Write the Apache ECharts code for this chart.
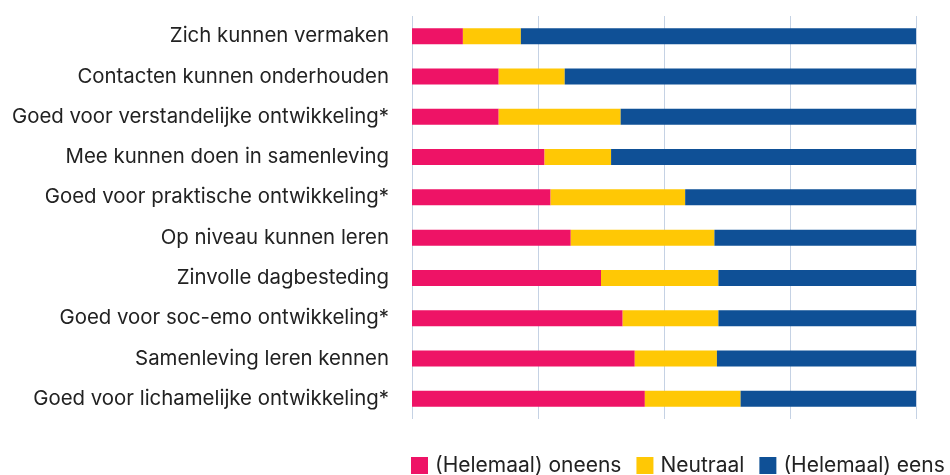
<!DOCTYPE html>
<html>
<head>
<meta charset="utf-8">
<script src="https://cdn.jsdelivr.net/npm/echarts@6/dist/echarts.min.js"></script>
<style>
  html, body { margin: 0; padding: 0; background: #fff; }
  #chart { width: 950px; height: 475px; }
</style>
</head>
<body>
<div id="chart"></div>
<script>
// categories top to bottom
const categories = [
  'Zich kunnen vermaken',
  'Contacten kunnen onderhouden',
  'Goed voor verstandelijke ontwikkeling*',
  'Mee kunnen doen in samenleving',
  'Goed voor praktische ontwikkeling*',
  'Op niveau kunnen leren',
  'Zinvolle dagbesteding',
  'Goed voor soc-emo ontwikkeling*',
  'Samenleving leren kennen',
  'Goed voor lichamelijke ontwikkeling*'
];
const oneens = [10.1, 17.2, 17.2, 26.3, 27.5, 31.5, 37.5, 41.8, 44.2, 46.2];
const neutraal = [11.5, 13.1, 24.2, 13.2, 26.7, 28.5, 23.3, 19.0, 16.3, 19.0];
const eens = [78.4, 69.7, 58.6, 60.5, 45.8, 40.0, 39.2, 39.2, 39.5, 34.8];
const seriesNames = ['(Helemaal) oneens', 'Neutraal', '(Helemaal) eens'];

const FONT = 'Inter';
let myChart = echarts.init(document.getElementById('chart'));
let option = {
  animation: false,
  color: ['#EE1366', '#FFC805', '#0F5096'],
  grid: {
    left: 412,
    right: 34,
    top: 16,
    bottom: 56
  },
  legend: {
    left: 406,
    top: 450,
    width: 580,
    padding: 5,
    itemWidth: 17,
    itemHeight: 17,
    itemGap: 15,
    icon: 'rect',
    data: seriesNames,
    textStyle: {
      color: '#222',
      fontFamily: FONT,
      fontSize: 21,
      padding: [0, 0, 0, 2]
    }
  },
  xAxis: {
    type: 'value',
    min: 0,
    max: 100,
    interval: 25,
    axisLabel: { show: false },
    axisLine: { show: false },
    axisTick: { show: false },
    splitLine: {
      show: true,
      lineStyle: { color: '#C5D2E4', width: 1 }
    }
  },
  yAxis: {
    type: 'category',
    inverse: true,
    data: categories,
    axisLine: { show: false },
    axisTick: { show: false },
    axisLabel: {
      color: '#222',
      fontFamily: FONT,
      fontSize: 20.4,
      margin: 23
    }
  },
  series: [
    { name: seriesNames[0], type: 'bar', stack: 'total', barWidth: 16, data: oneens },
    { name: seriesNames[1], type: 'bar', stack: 'total', barWidth: 16, data: neutraal },
    { name: seriesNames[2], type: 'bar', stack: 'total', barWidth: 16, data: eens }
  ]
};
myChart.setOption(option);
</script>
</body>
</html>
